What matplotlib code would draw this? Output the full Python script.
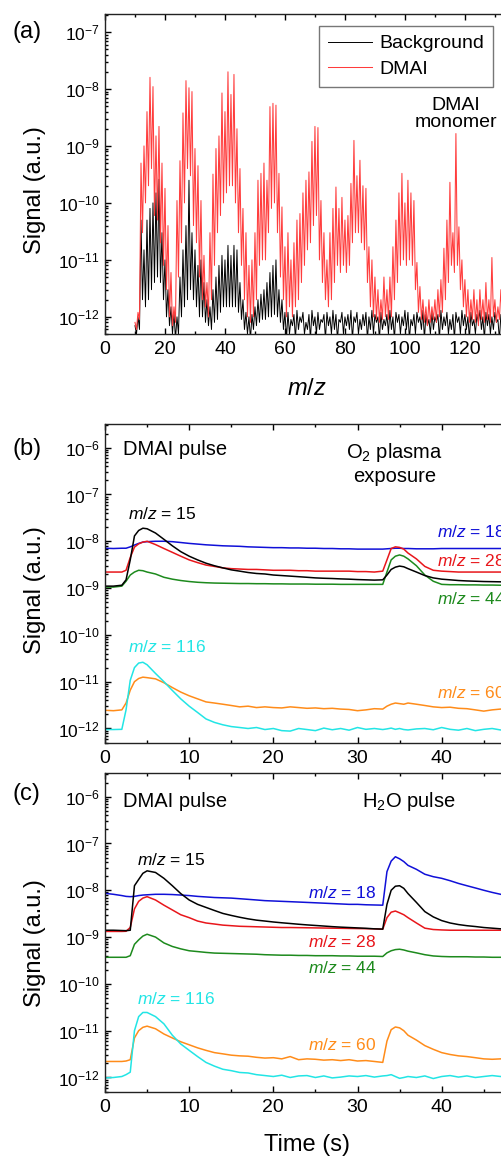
import matplotlib
matplotlib.use("Agg")
import matplotlib.pyplot as plt
import numpy as np
from matplotlib.ticker import LogLocator, NullFormatter, MultipleLocator

plt.rcParams['font.family'] = ['Liberation Sans', 'DejaVu Sans']
plt.rcParams['mathtext.fontset'] = 'custom'
plt.rcParams['mathtext.rm'] = 'Liberation Sans'
plt.rcParams['mathtext.it'] = 'Liberation Sans:italic'
plt.rcParams['mathtext.bf'] = 'Liberation Sans:bold'

# ---------------- Panel (a): mass spectrum ----------------
mz = list(range(10, 136))
dmai_peak = [8e-13, 1.2e-12, 5e-10, 1e-9, 4e-9, 1.6e-8, 1.1e-8, 1.5e-9, 2.2e-9, 5e-10,
             1.8e-10, 4e-11, 6e-12, 1.5e-12, 1.1e-10, 5.5e-10, 3.8e-9, 1.4e-8, 1.05e-8, 9e-9,
             9e-10, 4.5e-10, 1.1e-10, 1.2e-11, 4e-12, 3e-11, 3.2e-10, 9e-10, 1.5e-9, 8.5e-9,
             4e-9, 2e-8, 8e-9, 1.8e-8, 2e-9, 4e-10, 8e-11, 3e-11, 8e-12, 1e-11,
             3e-11, 2.5e-10, 3.3e-10, 5e-10, 2.5e-10, 4.9e-9, 5.6e-9, 5.2e-9, 3.3e-10, 8.5e-11,
             1.7e-11, 3e-11, 1e-11, 2e-11, 5e-11, 6.5e-11, 1.5e-10, 2.5e-10, 3.5e-10, 1.2e-9,
             2.2e-9, 2.1e-9, 1.1e-10, 3e-11, 1e-11, 3e-11, 8e-11, 1.9e-10, 8e-11, 1.25e-10,
             5e-11, 6e-11, 2.2e-10, 1.25e-9, 3e-10, 5.6e-10, 2e-10, 1.8e-10, 1.7e-11, 1e-11,
             5e-12, 3e-12, 2e-12, 5e-12, 3e-12, 5e-12, 1.7e-11, 5e-11, 1.5e-10, 3.3e-10,
             1e-10, 2.5e-10, 1.5e-10, 1.1e-10, 9e-12, 3.4e-12, 2e-12, 1.5e-12, 2e-12, 1.5e-12,
             2e-12, 3e-12, 4.5e-12, 1.6e-11, 5e-11, 2.3e-10, 3e-11, 1.65e-9, 3.8e-11, 1e-11,
             4.5e-12, 3e-12, 2e-12, 3e-12, 2e-12, 3e-12, 2e-12, 4e-12, 2e-12, 1.1e-11,
             2e-12, 1.5e-12, 3e-12, 2e-12, 1.5e-12, 2e-12]
dmai_valley = [6e-13, 9e-13, 3e-11, 1e-10, 2e-10, 4e-10, 6e-11, 5e-11, 2e-11, 8e-12,
               3e-12, 1e-12, 7e-13, 8e-13, 5e-12, 2e-11, 1e-10, 4e-10, 3e-10, 4e-11,
               2e-11, 5e-12, 2e-12, 1.5e-12, 1e-12, 2e-12, 8e-12, 3e-11, 6e-11, 1e-10,
               1.5e-10, 2e-10, 2e-10, 1e-10, 3e-11, 8e-12, 2e-12, 1e-12, 8e-13, 1e-12,
               2e-12, 8e-12, 1e-11, 1e-11, 3e-11, 8e-11, 1e-10, 3e-11, 5e-12, 2e-12,
               1e-12, 1.5e-12, 1e-12, 1.5e-12, 2e-12, 4e-12, 8e-12, 1.5e-11, 2e-11, 4e-11,
               6e-11, 1e-11, 4e-12, 2e-12, 1.5e-12, 2e-12, 4e-12, 8e-12, 6e-12, 8e-12,
               6e-12, 8e-12, 2e-11, 3e-11, 3e-11, 2e-11, 1.5e-11, 4e-12, 1.5e-12, 1e-12,
               9e-13, 8e-13, 9e-13, 1e-12, 9e-13, 1e-12, 2e-12, 4e-12, 8e-12, 1e-11,
               8e-12, 1e-11, 8e-12, 3e-12, 1.2e-12, 9e-13, 8e-13, 7e-13, 8e-13, 9e-13,
               8e-13, 1e-12, 1.2e-12, 2e-12, 4e-12, 8e-12, 6e-12, 8e-12, 3e-12, 1.5e-12,
               1e-12, 8e-13, 9e-13, 8e-13, 7e-13, 9e-13, 8e-13, 9e-13, 8e-13, 1e-12,
               8e-13, 9e-13, 8e-13, 9e-13, 8e-13]
bg_peak = [7e-13, 1e-12, 5e-11, 1.5e-11, 5e-11, 8e-11, 1e-10, 1.5e-10, 2.6e-10, 3e-11,
           1e-11, 3e-12, 1.5e-12, 1.2e-12, 1e-12, 5e-12, 1.5e-11, 4e-11, 2.5e-10, 3e-11,
           1.5e-11, 8e-12, 1e-11, 4e-12, 2e-12, 1.5e-12, 3e-12, 5e-12, 8e-12, 1.2e-11,
           1e-11, 1.8e-11, 1.2e-11, 1.8e-11, 1.5e-11, 4e-12, 2e-12, 1.2e-12, 1e-12, 1.1e-12,
           1.5e-12, 2e-12, 2.5e-12, 3e-12, 4e-12, 6e-12, 8e-12, 1e-11, 3e-12, 2e-12,
           1.2e-12, 1.2e-12, 9e-13, 1.1e-12, 1.3e-12, 1e-12, 1.2e-12, 8e-13, 1.1e-12, 1.3e-12,
           1e-12, 1.2e-12, 9e-13, 1.1e-12, 1.2e-12, 1e-12, 1.3e-12, 1.1e-12, 9e-13, 1.2e-12,
           1e-12, 1.1e-12, 1.3e-12, 1e-12, 1.2e-12, 9e-13, 1.1e-12, 1.2e-12, 1e-12, 1.3e-12,
           1.1e-12, 1e-12, 1.2e-12, 9e-13, 1.1e-12, 1.3e-12, 1e-12, 1.2e-12, 1.1e-12, 1e-12,
           1.3e-12, 1.2e-12, 9e-13, 1.1e-12, 1.2e-12, 1e-12, 1.3e-12, 1.1e-12, 9e-13, 1.2e-12,
           1e-12, 1.1e-12, 1.3e-12, 1e-12, 1.2e-12, 9e-13, 1.1e-12, 1.2e-12, 1e-12, 1.3e-12,
           1.1e-12, 1e-12, 1.2e-12, 9e-13, 1.1e-12, 1.3e-12, 1e-12, 1.2e-12, 1.1e-12, 1e-12,
           1.2e-12, 9e-13, 1.1e-12, 1.2e-12, 1e-12, 1.1e-12]
bg_valley = [5e-13, 6e-13, 2e-12, 1.5e-12, 2e-12, 3e-12, 4e-12, 5e-12, 4e-12, 2e-12,
             1e-12, 7e-13, 5e-13, 4e-13, 5e-13, 1e-12, 1.5e-12, 2e-12, 3e-12, 2e-12,
             1.5e-12, 1e-12, 1e-12, 8e-13, 7e-13, 6e-13, 8e-13, 9e-13, 1.2e-12, 1.5e-12,
             1.5e-12, 1.5e-12, 1.5e-12, 1.5e-12, 1.2e-12, 9e-13, 6e-13, 5e-13, 4e-13, 6e-13,
             7e-13, 8e-13, 9e-13, 9e-13, 1e-12, 1e-12, 1.1e-12, 1e-12, 8e-13, 6e-13,
             4e-13, 5e-13, 7e-13, 4e-13, 6e-13, 8e-13, 5e-13, 6e-13, 4e-13, 7e-13,
             5e-13, 6e-13, 8e-13, 4e-13, 7e-13, 5e-13, 6e-13, 4e-13, 8e-13, 5e-13,
             7e-13, 6e-13, 4e-13, 8e-13, 5e-13, 6e-13, 7e-13, 4e-13, 6e-13, 5e-13,
             8e-13, 4e-13, 6e-13, 7e-13, 5e-13, 6e-13, 4e-13, 8e-13, 5e-13, 7e-13,
             6e-13, 4e-13, 7e-13, 5e-13, 8e-13, 6e-13, 4e-13, 7e-13, 5e-13, 6e-13,
             8e-13, 4e-13, 6e-13, 7e-13, 5e-13, 6e-13, 4e-13, 8e-13, 5e-13, 7e-13,
             6e-13, 4e-13, 7e-13, 5e-13, 8e-13, 6e-13, 4e-13, 7e-13, 5e-13, 6e-13,
             8e-13, 4e-13, 6e-13, 7e-13, 5e-13]
mz_ticks_a = [0, 20, 40, 60, 80, 100, 120]

# ---------------- Panels (b), (c): time traces ----------------
t = [0, 1, 2, 2.5, 3, 3.5, 4, 4.5, 5, 6, 7, 8, 9, 10, 11, 12, 13, 14, 15, 16,
     17, 18, 19, 20, 21, 22, 23, 24, 25, 26, 27, 28, 29, 30, 31, 32, 33, 33.5, 34, 34.5,
     35, 35.5, 36, 37, 38, 39, 40, 41, 42, 43, 44, 45, 46, 47, 48]

b_m15 = [1.1e-9, 1.1e-9, 1.15e-9, 1.5e-9, 4e-9, 1.3e-8, 1.7e-8, 1.9e-8, 1.85e-8, 1.5e-8,
         1.1e-8, 8e-9, 6e-9, 4.8e-9, 4e-9, 3.4e-9, 3e-9, 2.7e-9, 2.45e-9, 2.3e-9,
         2.15e-9, 2.05e-9, 2e-9, 1.9e-9, 1.85e-9, 1.8e-9, 1.75e-9, 1.7e-9, 1.65e-9, 1.62e-9,
         1.6e-9, 1.57e-9, 1.55e-9, 1.52e-9, 1.5e-9, 1.48e-9, 1.5e-9, 1.9e-9, 2.5e-9, 2.8e-9,
         2.95e-9, 2.85e-9, 2.6e-9, 2.2e-9, 1.85e-9, 1.65e-9, 1.55e-9, 1.5e-9, 1.45e-9, 1.42e-9,
         1.4e-9, 1.38e-9, 1.37e-9, 1.36e-9, 1.35e-9]
b_m18 = [7.1e-9, 7.0e-9, 7.1e-9, 7.1e-9, 7.6e-9, 8.3e-9, 9.0e-9, 9.6e-9, 9.8e-9, 1.0e-8,
         1.0e-8, 9.8e-9, 9.4e-9, 9.0e-9, 8.7e-9, 8.4e-9, 8.2e-9, 8.0e-9, 7.9e-9, 7.8e-9,
         7.6e-9, 7.5e-9, 7.4e-9, 7.3e-9, 7.3e-9, 7.2e-9, 7.2e-9, 7.1e-9, 7.1e-9, 7.0e-9,
         7.0e-9, 6.9e-9, 6.9e-9, 6.8e-9, 6.8e-9, 6.8e-9, 6.8e-9, 6.9e-9, 7.0e-9, 7.1e-9,
         7.1e-9, 7.0e-9, 7.0e-9, 6.9e-9, 6.9e-9, 6.9e-9, 7.0e-9, 7.0e-9, 7.0e-9, 7.0e-9,
         7.0e-9, 7.0e-9, 7.0e-9, 7.0e-9, 7.0e-9]
b_m28 = [2.2e-9, 2.2e-9, 2.2e-9, 2.4e-9, 4.5e-9, 7.5e-9, 8.8e-9, 9.6e-9, 1.0e-8, 8.5e-9,
         7e-9, 5.8e-9, 4.8e-9, 4e-9, 3.5e-9, 3.1e-9, 2.9e-9, 2.7e-9, 2.6e-9, 2.55e-9,
         2.5e-9, 2.5e-9, 2.45e-9, 2.4e-9, 2.4e-9, 2.4e-9, 2.35e-9, 2.35e-9, 2.3e-9, 2.3e-9,
         2.3e-9, 2.3e-9, 2.3e-9, 2.25e-9, 2.25e-9, 2.2e-9, 2.3e-9, 4e-9, 7e-9, 7.6e-9,
         7.4e-9, 6.8e-9, 5.6e-9, 4.2e-9, 2.9e-9, 2.4e-9, 2.3e-9, 2.25e-9, 2.2e-9, 2.2e-9,
         2.2e-9, 2.2e-9, 2.2e-9, 2.2e-9, 2.2e-9]
b_m44 = [1.05e-9, 1.05e-9, 1.1e-9, 1.4e-9, 1.9e-9, 2.2e-9, 2.4e-9, 2.35e-9, 2.2e-9, 2e-9,
         1.7e-9, 1.55e-9, 1.45e-9, 1.38e-9, 1.33e-9, 1.3e-9, 1.28e-9, 1.27e-9, 1.26e-9, 1.25e-9,
         1.25e-9, 1.24e-9, 1.24e-9, 1.23e-9, 1.23e-9, 1.22e-9, 1.22e-9, 1.22e-9, 1.21e-9, 1.21e-9,
         1.21e-9, 1.2e-9, 1.2e-9, 1.2e-9, 1.2e-9, 1.2e-9, 1.2e-9, 2.2e-9, 4e-9, 4.8e-9,
         5.1e-9, 4.8e-9, 4.2e-9, 3e-9, 1.9e-9, 1.4e-9, 1.2e-9, 1.18e-9, 1.18e-9, 1.17e-9,
         1.17e-9, 1.16e-9, 1.16e-9, 1.15e-9, 1.15e-9]
b_m60 = [2.45e-12, 2.4e-12, 2.5e-12, 3.5e-12, 6.6e-12, 1e-11, 1.17e-11, 1.25e-11, 1.22e-11, 1.15e-11,
         9.5e-12, 7.5e-12, 6e-12, 5e-12, 4.3e-12, 3.7e-12, 3.5e-12, 3.3e-12, 3.1e-12, 2.9e-12,
         3e-12, 2.8e-12, 2.9e-12, 2.8e-12, 2.75e-12, 2.9e-12, 2.8e-12, 2.7e-12, 2.75e-12, 2.65e-12,
         2.7e-12, 2.6e-12, 2.55e-12, 2.4e-12, 2.5e-12, 2.65e-12, 2.6e-12, 3e-12, 3.3e-12, 3.5e-12,
         3.4e-12, 3.3e-12, 3.5e-12, 3.3e-12, 3.1e-12, 2.9e-12, 2.8e-12, 2.85e-12, 2.7e-12, 2.65e-12,
         2.5e-12, 2.35e-12, 2.5e-12, 2.6e-12, 2.5e-12]
b_m116 = [9.5e-13, 9.5e-13, 9.6e-13, 2.5e-12, 1.07e-11, 2e-11, 2.5e-11, 2.6e-11, 2.3e-11, 1.5e-11,
          1e-11, 6.5e-12, 4.3e-12, 3e-12, 2.2e-12, 1.6e-12, 1.35e-12, 1.2e-12, 1.1e-12, 1.05e-12,
          1e-12, 1.05e-12, 9.5e-13, 1e-12, 9e-13, 8.8e-13, 1e-12, 9.5e-13, 9e-13, 1.02e-12,
          9.4e-13, 1e-12, 9.2e-13, 1.05e-12, 9.6e-13, 1e-12, 9.5e-13, 9.8e-13, 1.02e-12, 9.6e-13,
          1e-12, 9.5e-13, 9.3e-13, 9.8e-13, 1e-12, 9.4e-13, 1.05e-12, 9.6e-13, 9.2e-13, 1e-12,
          9e-13, 9.6e-13, 1e-12, 9.3e-13, 9.6e-13]

c_m15 = [1.4e-9, 1.4e-9, 1.38e-9, 1.37e-9, 1.4e-9, 1.25e-8, 1.7e-8, 2.3e-8, 2.6e-8, 2.4e-8,
         1.8e-8, 1.25e-8, 8.5e-9, 6.2e-9, 5e-9, 4.3e-9, 3.7e-9, 3.2e-9, 2.9e-9, 2.65e-9,
         2.45e-9, 2.3e-9, 2.2e-9, 2.1e-9, 2.02e-9, 1.95e-9, 1.88e-9, 1.82e-9, 1.77e-9, 1.72e-9,
         1.67e-9, 1.63e-9, 1.6e-9, 1.57e-9, 1.54e-9, 1.5e-9, 1.48e-9, 5e-9, 1e-8, 1.22e-8,
         1.25e-8, 1.1e-8, 8.5e-9, 5.5e-9, 3.5e-9, 2.7e-9, 2.25e-9, 2e-9, 1.85e-9, 1.75e-9,
         1.68e-9, 1.6e-9, 1.55e-9, 1.5e-9, 1.47e-9]
c_m18 = [8.6e-9, 8.2e-9, 7.7e-9, 7.4e-9, 7.3e-9, 7.4e-9, 7.7e-9, 7.9e-9, 8e-9, 8.2e-9,
         8.2e-9, 8.1e-9, 7.9e-9, 7.7e-9, 7.4e-9, 7.2e-9, 7e-9, 6.9e-9, 6.8e-9, 6.6e-9,
         6.4e-9, 6.2e-9, 6.0e-9, 5.9e-9, 5.8e-9, 5.7e-9, 5.6e-9, 5.5e-9, 5.4e-9, 5.3e-9,
         5.2e-9, 5.1e-9, 5e-9, 5e-9, 4.9e-9, 4.85e-9, 4.8e-9, 2.5e-8, 4.2e-8, 5.2e-8,
         4.7e-8, 4.1e-8, 3.4e-8, 2.8e-8, 2.2e-8, 1.95e-8, 1.8e-8, 1.6e-8, 1.4e-8, 1.25e-8,
         1.12e-8, 1e-8, 9e-9, 8.2e-9, 7.8e-9]
c_m28 = [1.32e-9, 1.32e-9, 1.32e-9, 1.33e-9, 1.6e-9, 4e-9, 5.8e-9, 6.8e-9, 7.3e-9, 6.2e-9,
         4.8e-9, 3.8e-9, 3e-9, 2.6e-9, 2.2e-9, 2e-9, 1.9e-9, 1.8e-9, 1.75e-9, 1.7e-9,
         1.68e-9, 1.66e-9, 1.64e-9, 1.62e-9, 1.6e-9, 1.6e-9, 1.59e-9, 1.58e-9, 1.57e-9, 1.56e-9,
         1.55e-9, 1.54e-9, 1.53e-9, 1.52e-9, 1.51e-9, 1.5e-9, 1.47e-9, 2.6e-9, 3.4e-9, 3.6e-9,
         3.3e-9, 3e-9, 2.6e-9, 2e-9, 1.55e-9, 1.45e-9, 1.42e-9, 1.4e-9, 1.4e-9, 1.4e-9,
         1.4e-9, 1.4e-9, 1.4e-9, 1.4e-9, 1.4e-9]
c_m44 = [3.7e-10, 3.7e-10, 3.7e-10, 3.7e-10, 4e-10, 7e-10, 8.7e-10, 1.05e-9, 1.15e-9, 1e-9,
         7.5e-10, 6.3e-10, 5.6e-10, 5.1e-10, 4.9e-10, 4.7e-10, 4.55e-10, 4.5e-10, 4.45e-10, 4.4e-10,
         4.35e-10, 4.3e-10, 4.2e-10, 4.15e-10, 4.1e-10, 4.1e-10, 4.05e-10, 4.05e-10, 4e-10, 4e-10,
         4e-10, 3.95e-10, 3.95e-10, 3.9e-10, 3.9e-10, 3.9e-10, 3.85e-10, 4.6e-10, 5.1e-10, 5.4e-10,
         5.5e-10, 5.3e-10, 5e-10, 4.6e-10, 4.2e-10, 3.95e-10, 3.85e-10, 3.8e-10, 3.8e-10, 3.8e-10,
         3.75e-10, 3.75e-10, 3.7e-10, 3.7e-10, 3.7e-10]
c_m60 = [2.2e-12, 2.2e-12, 2.2e-12, 2.25e-12, 2.4e-12, 7e-12, 1e-11, 1.18e-11, 1.25e-11, 1.1e-11,
         8.5e-12, 7e-12, 5.8e-12, 5e-12, 4.3e-12, 3.8e-12, 3.4e-12, 3.2e-12, 3e-12, 2.9e-12,
         2.85e-12, 2.7e-12, 2.6e-12, 2.65e-12, 2.5e-12, 2.8e-12, 2.4e-12, 2.5e-12, 2.45e-12, 2.35e-12,
         2.4e-12, 2.3e-12, 2.4e-12, 2.25e-12, 2.3e-12, 2.2e-12, 2.1e-12, 6e-12, 1.05e-11, 1.2e-11,
         1.15e-11, 1e-11, 8e-12, 6.3e-12, 4.8e-12, 4e-12, 3.4e-12, 3.1e-12, 2.9e-12, 2.8e-12,
         2.65e-12, 2.5e-12, 2.45e-12, 2.5e-12, 2.6e-12]
c_m116 = [9.8e-13, 1e-12, 1.05e-12, 1.15e-12, 1.3e-12, 1e-11, 2e-11, 2.45e-11, 2.45e-11, 2e-11,
          1.4e-11, 8e-12, 5.2e-12, 3.8e-12, 2.8e-12, 2.1e-12, 1.75e-12, 1.5e-12, 1.4e-12, 1.28e-12,
          1.25e-12, 1.15e-12, 1.1e-12, 1.05e-12, 1.12e-12, 1e-12, 1.08e-12, 1.1e-12, 1e-12, 1.08e-12,
          9.8e-13, 1.02e-12, 1.08e-12, 1.05e-12, 1.1e-12, 1.02e-12, 1.08e-12, 1.1e-12, 1.15e-12, 1.05e-12,
          9.6e-13, 1e-12, 1.05e-12, 1e-12, 1.08e-12, 9.5e-13, 1.05e-12, 1.1e-12, 1.02e-12, 1.08e-12,
          1e-12, 1.05e-12, 1.1e-12, 1.05e-12, 1.08e-12]

colors = {'15': 'black', '18': '#1010d8', '28': '#e8161b', '44': '#1d8a1d',
          '60': '#ff8c1a', '116': '#22e5e5'}

W, H = 501, 1156
fig = plt.figure(figsize=(W / 100, H / 100), dpi=100)

def frac_axes(left_px, top_px, right_px, bottom_px):
    return fig.add_axes([left_px / W, 1 - bottom_px / H,
                         (right_px - left_px) / W, (bottom_px - top_px) / H])

def style_axes(ax, xmajor, xminor):
    ax.set_yscale('log')
    ax.yaxis.set_major_locator(LogLocator(base=10, numticks=30))
    ax.yaxis.set_minor_locator(LogLocator(base=10, subs=np.arange(2, 10), numticks=300))
    ax.yaxis.set_minor_formatter(NullFormatter())
    ax.xaxis.set_major_locator(MultipleLocator(xmajor))
    ax.xaxis.set_minor_locator(MultipleLocator(xminor))
    ax.tick_params(which='both', direction='in', top=True, right=True, width=1.0)
    ax.tick_params(which='major', length=4.5)
    ax.tick_params(which='minor', length=2.5)
    ax.tick_params(axis='x', labelsize=14, pad=5)
    ax.tick_params(axis='y', labelsize=12.5, pad=4)
    for s in ax.spines.values():
        s.set_linewidth(1.0)
        s.set_color('#222222')

# ---- (a)
axa = frac_axes(105, 14, 509, 334)
style_axes(axa, 20, 10)
mz_half = [m + 0.5 for m in mz[:-1]]
xa, yb, yd = [], [], []
for i in range(len(mz)):
    xa.append(mz[i]); yb.append(bg_peak[i]); yd.append(dmai_peak[i])
    if i < len(mz) - 1:
        xa.append(mz_half[i]); yb.append(bg_valley[i]); yd.append(dmai_valley[i])
axa.plot(xa, yb, color='black', lw=0.7, label='Background')
axa.plot(xa, yd, color='#ff3c3c', lw=0.75, label='DMAI')
axa.set_xlim(0, 134.7)
axa.set_ylim(5.0e-13, 2.07e-7)
axa.set_xticks(mz_ticks_a)
leg = axa.legend(loc='upper right', bbox_to_anchor=(0.960, 0.9625), borderaxespad=0,
                 fontsize=14, frameon=True, fancybox=False, handlelength=2.3,
                 handletextpad=0.35, labelspacing=0.42, borderpad=0.45)
leg.get_frame().set_edgecolor('#555555')
leg.get_frame().set_linewidth(1.0)
axa.text(117, 3.7e-9, 'DMAI\nmonomer', ha='center', va='center', fontsize=14,
         linespacing=1.0)
axa.set_xlabel('$m/z$', fontsize=17)
axa.xaxis.set_label_coords(0.5, -0.172)
axa.xaxis.label.set_va('center')
axa.set_ylabel('Signal (a.u.)', fontsize=17)
axa.yaxis.set_label_coords(-0.173, 0.45)
axa.yaxis.label.set_va('center')
fig.text(12 / W, 1 - 32 / H, '(a)', fontsize=17, ha='left', va='center')

# ---- (b) and (c)
def time_panel(top_px, bottom_px, series, label_pos, ylab_y):
    ax = frac_axes(105, top_px, 509, bottom_px)
    style_axes(ax, 10, 5)
    for key, vals in series:
        ax.plot(t, vals, color=colors[key], lw=1.1)
    ax.set_xlim(0, 48)
    ax.set_ylim(4.9e-13, 3.2e-6)
    for key, (x, y) in label_pos.items():
        ax.text(x, y, '$m/z$ = ' + key, color=colors[key], fontsize=12.5,
                ha='left', va='center')
    ax.set_ylabel('Signal (a.u.)', fontsize=17)
    ax.yaxis.set_label_coords(-0.173, ylab_y)
    ax.yaxis.label.set_va('center')
    return ax

axb = time_panel(424, 743,
                 [('18', b_m18), ('28', b_m28), ('44', b_m44), ('15', b_m15),
                  ('60', b_m60), ('116', b_m116)],
                 {'15': (2.73, 3.9e-8), '18': (39.5, 1.58e-8), '28': (39.5, 3.8e-9),
                  '44': (39.5, 5.8e-10), '116': (2.73, 5.5e-11), '60': (39.5, 5.6e-12)},
                 0.48)
axb.text(2.14, 9.1e-7, 'DMAI pulse', fontsize=14.5, ha='left', va='center')
axb.text(34.4, 4.6e-7, 'O$_2$ plasma\nexposure', fontsize=14.5, ha='center',
         va='center', linespacing=1.15)
fig.text(12 / W, 1 - 449 / H, '(b)', fontsize=17, ha='left', va='center')

axc = time_panel(773, 1092,
                 [('18', c_m18), ('28', c_m28), ('44', c_m44), ('15', c_m15),
                  ('60', c_m60), ('116', c_m116)],
                 {'15': (3.8, 4.5e-8), '18': (24.1, 8.9e-9), '28': (24.1, 7.9e-10),
                  '44': (24.1, 2.2e-10), '116': (3.8, 4.7e-11), '60': (24.1, 5e-12)},
                 0.467)
axc.text(2.14, 7.8e-7, 'DMAI pulse', fontsize=14.5, ha='left', va='center')
axc.text(30.5, 7.8e-7, 'H$_2$O pulse', fontsize=14.5, ha='left', va='center')
axc.set_xlabel('Time (s)', fontsize=17)
axc.xaxis.set_label_coords(0.5, -0.166)
axc.xaxis.label.set_va('center')
fig.text(12 / W, 1 - 794 / H, '(c)', fontsize=17, ha='left', va='center')

fig.savefig('out.png', dpi=100)
